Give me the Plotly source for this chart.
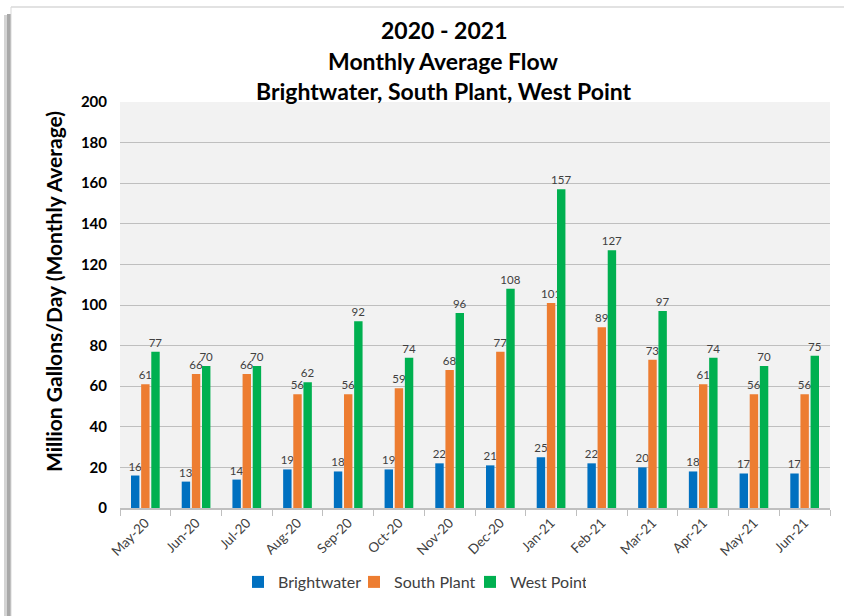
import plotly.graph_objects as go

months = ["May-20", "Jun-20", "Jul-20", "Aug-20", "Sep-20", "Oct-20", "Nov-20",
          "Dec-20", "Jan-21", "Feb-21", "Mar-21", "Apr-21", "May-21", "Jun-21"]
brightwater = [16, 13, 14, 19, 18, 19, 22, 21, 25, 22, 20, 18, 17, 17]
south_plant = [61, 66, 66, 56, 56, 59, 68, 77, 101, 89, 73, 61, 56, 56]
west_point = [77, 70, 70, 62, 92, 74, 96, 108, 157, 127, 97, 74, 70, 75]
y_ticks = list(range(0, 201, 20))

W, H = 844, 616
L, R, T, B = 120, 14, 102, 108
PW, PH = W - L - R, H - T - B


def px(x):
    return (x - L) / PW


def py(y):
    return (H - B - y) / PH


FONT = "Lato"
fig = go.Figure()
for name, vals, col in [("Brightwater", brightwater, "#0070c0"),
                        ("South Plant", south_plant, "#ed7d31"),
                        ("West Point", west_point, "#00b050")]:
    fig.add_trace(go.Bar(
        x=months, y=vals, name=name, marker_color=col,
        marker_line_width=0,
        text=vals, textposition="outside", cliponaxis=False,
        constraintext="none",
        textfont=dict(family=FONT, size=11.5, color="#404040"),
    ))

annotations = []
for txt, yp in [("2020 - 2021", 30), ("Monthly Average Flow", 61),
                ("Brightwater, South Plant, West Point", 91)]:
    annotations.append(dict(text="<b>%s</b>" % txt, x=px(443.5), y=py(yp),
                            xref="paper", yref="paper", xanchor="center",
                            yanchor="middle", showarrow=False,
                            font=dict(family=FONT, size=23, color="black")))
annotations.append(dict(text="<b>Million Gallons/Day (Monthly Average)</b>",
                        x=px(53), y=py(292), xref="paper", yref="paper",
                        xanchor="center", yanchor="middle", textangle=-90,
                        showarrow=False,
                        font=dict(family=FONT, size=21, color="black")))

shapes = [
    dict(type="rect", xref="paper", yref="paper", x0=px(4), x1=px(7),
         y0=py(616), y1=py(15), fillcolor="#d4d4d4", line_width=0, layer="below"),
    dict(type="rect", xref="paper", yref="paper", x0=px(7), x1=px(11),
         y0=py(616), y1=py(14), fillcolor="#a8a8a8", line_width=0, layer="below"),
    dict(type="line", xref="paper", yref="paper", x0=px(11), x1=px(844),
         y0=py(7), y1=py(7), line=dict(color="#d9d9d9", width=1.5)),
    dict(type="line", xref="paper", yref="paper", x0=px(11), x1=px(11),
         y0=py(616), y1=py(7), line=dict(color="#d9d9d9", width=1)),
]

fig.update_layout(
    width=W, height=H,
    margin=dict(l=L, r=R, t=T, b=B),
    paper_bgcolor="white", plot_bgcolor="#f2f2f2",
    barmode="group", bargap=0.4, bargroupgap=0.17,
    showlegend=True,
    legend=dict(orientation="h", x=px(412), y=py(582), xanchor="center",
                yanchor="middle", font=dict(family=FONT, size=16, color="#404040"),
                itemclick=False, itemwidth=30, entrywidth=71,
                entrywidthmode="pixels"),
    annotations=annotations, shapes=shapes,
    xaxis=dict(type="category", tickangle=-45, showgrid=False,
               showline=True, linecolor="#bfbfbf", linewidth=1.5,
               ticks="outside", tickson="boundaries", ticklen=6,
               tickcolor="#bfbfbf",
               tickfont=dict(family=FONT, size=13.5, color="#404040")),
    yaxis=dict(range=[0, 200], tickvals=y_ticks, showgrid=True,
               gridcolor="#bfbfbf", gridwidth=1.2, zeroline=False,
               showline=False, ticks="", ticklabelstandoff=12,
               tickfont=dict(family=FONT, size=15, color="black", weight="bold")),
)

fig.write_html("out.html", config={"displayModeBar": False},
               post_script="document.body.style.margin='0';document.body.style.overflow='hidden';")
